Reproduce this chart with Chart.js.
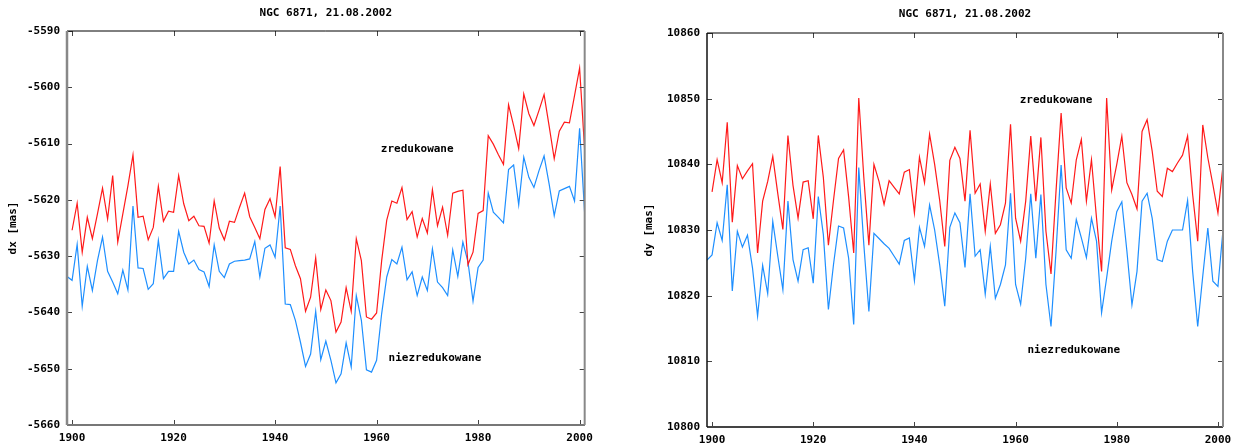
<!DOCTYPE html>
<html>
<head>
<meta charset="utf-8">
<script src="https://cdn.jsdelivr.net/npm/chart.js@4.4.1/dist/chart.umd.min.js"></script>
<style>
  html, body { margin: 0; padding: 0; background: #fff; }
  #wrap { position: relative; width: 1239px; height: 446px; }
  #dxChart { position: absolute; left: 0; top: 0; }
  #dyChart { position: absolute; left: 630px; top: 0; }
</style>
</head>
<body>
<div id="wrap">
  <canvas id="dxChart" width="600" height="446"></canvas>
  <canvas id="dyChart" width="609" height="446"></canvas>
</div>
<script>
const chartTitle = 'NGC 6871, 21.08.2002';
const labelReduced = 'zredukowane';
const labelRaw = 'niezredukowane';

// reduced series start in 1900, raw series in 1899, one value per year
const firstYearReduced = 1900;
const firstYearRaw = 1899;

const xTicks = [1900, 1920, 1940, 1960, 1980, 2000];
const dxTicks = [-5660, -5650, -5640, -5630, -5620, -5610, -5600, -5590];
const dyTicks = [10800, 10810, 10820, 10830, 10840, 10850, 10860];

const dxReduced = [
  -5625.4, -5620.6, -5629.3, -5623.1, -5626.9, -5622.5, -5617.9, -5623.4, -5615.7, -5627.5,
  -5622.5, -5617.5, -5612.0, -5623.1, -5622.9, -5627.1, -5624.9, -5617.6, -5623.8, -5622.0,
  -5622.2, -5615.7, -5620.7, -5623.7, -5622.9, -5624.6, -5624.7, -5627.7, -5620.2, -5625.0,
  -5627.1, -5623.8, -5624.0, -5621.3, -5618.8, -5623.0, -5624.9, -5626.9, -5621.7, -5619.8,
  -5623.0, -5614.1, -5628.5, -5628.8, -5631.7, -5634.0, -5639.8, -5637.3, -5630.3, -5639.5,
  -5636.0, -5637.9, -5643.5, -5641.7, -5635.6, -5639.8, -5626.9, -5630.8, -5640.8, -5641.2,
  -5640.1, -5630.8, -5623.6, -5620.2, -5620.6, -5617.8, -5623.5, -5622.1, -5626.6, -5623.3,
  -5625.9, -5618.2, -5624.6, -5621.3, -5626.3, -5618.8, -5618.5, -5618.3, -5631.5, -5629.3,
  -5622.4, -5621.9, -5608.6, -5610.1, -5612.0, -5613.7, -5603.1, -5606.8, -5610.9, -5601.2,
  -5604.7, -5606.8, -5604.1, -5601.3, -5606.9, -5612.7, -5607.8, -5606.2, -5606.3, -5601.5,
  -5596.6, -5611.2
];
const dxRaw = [
  -5633.6,
  -5634.3, -5627.9, -5638.9, -5631.8, -5636.1, -5630.8, -5626.6, -5632.7, -5634.6, -5636.7,
  -5632.5, -5636.0, -5621.1, -5632.1, -5632.2, -5635.9, -5634.9, -5627.2, -5634.0, -5632.7,
  -5632.7, -5625.6, -5629.3, -5631.4, -5630.7, -5632.4, -5632.8, -5635.4, -5628.0, -5632.7,
  -5633.8, -5631.4, -5630.9, -5630.8, -5630.7, -5630.5, -5627.4, -5633.7, -5628.6, -5628.0,
  -5630.2, -5621.1, -5638.5, -5638.6, -5641.4, -5645.3, -5649.6, -5647.4, -5639.8, -5648.4,
  -5645.1, -5648.5, -5652.5, -5650.9, -5645.4, -5649.7, -5637.0, -5641.4, -5650.2, -5650.6,
  -5648.5, -5640.2, -5633.7, -5630.6, -5631.4, -5628.4, -5634.2, -5632.8, -5637.0, -5633.7,
  -5636.1, -5628.7, -5634.6, -5635.6, -5637.0, -5628.9, -5633.6, -5627.5, -5631.0, -5638.0,
  -5632.0, -5630.7, -5618.8, -5622.2, -5623.1, -5624.1, -5614.6, -5613.8, -5620.9, -5612.4,
  -5616.0, -5617.8, -5614.8, -5612.2, -5617.2, -5622.8, -5618.4, -5618.0, -5617.6, -5620.2,
  -5607.3, -5622.4
];

const dyReduced = [
  10835.8, 10840.7, 10837.2, 10846.4, 10831.2, 10839.8, 10837.8, 10839.0, 10840.1, 10826.5,
  10834.4, 10837.4, 10841.2, 10835.5, 10830.1, 10844.4, 10836.8, 10831.8, 10837.3, 10837.5,
  10831.7, 10844.4, 10838.0, 10827.7, 10834.5, 10840.9, 10842.2, 10835.0, 10826.5, 10850.1,
  10838.0, 10827.7, 10840.0, 10837.4, 10833.9, 10837.5, 10836.5, 10835.5, 10838.8, 10839.2,
  10832.6, 10841.1, 10837.2, 10844.6, 10840.0, 10834.5, 10827.5, 10840.6, 10842.6, 10840.9,
  10834.4, 10845.2, 10835.6, 10837.0, 10829.8, 10837.0, 10829.5, 10830.8, 10834.1, 10846.1,
  10831.8, 10828.3, 10834.4, 10844.3, 10834.4, 10844.1, 10829.8, 10823.3, 10836.0, 10847.8,
  10836.4, 10834.1, 10840.7, 10843.8, 10834.4, 10840.7, 10831.8, 10823.7, 10850.1, 10836.1,
  10840.0, 10844.3, 10837.2, 10835.4, 10833.2, 10845.0, 10846.8, 10842.0, 10835.9, 10835.1,
  10839.4, 10838.9, 10840.2, 10841.4, 10844.3, 10835.4, 10828.3, 10846.0, 10841.0, 10836.9,
  10832.6, 10839.8
];
const dyRaw = [
  10825.4,
  10826.2, 10831.1, 10828.4, 10836.9, 10820.7, 10829.8, 10827.4, 10829.2, 10824.2, 10816.9,
  10824.6, 10820.3, 10831.3, 10826.0, 10820.9, 10834.4, 10825.5, 10822.2, 10827.0, 10827.3,
  10821.9, 10835.1, 10829.3, 10817.9, 10824.7, 10830.6, 10830.3, 10825.7, 10815.6, 10839.5,
  10827.8, 10817.6, 10829.5, 10828.7, 10827.9, 10827.2, 10826.0, 10824.8, 10828.4, 10828.8,
  10822.3, 10830.4, 10827.5, 10833.8, 10830.0, 10824.7, 10818.4, 10830.4, 10832.6, 10831.1,
  10824.3, 10835.5, 10826.0, 10827.0, 10820.2, 10827.5, 10819.6, 10821.7, 10824.7, 10835.6,
  10821.7, 10818.7, 10825.7, 10835.5, 10825.7, 10835.4, 10821.7, 10815.3, 10826.8, 10839.9,
  10827.0, 10825.7, 10831.6, 10828.8, 10825.8, 10831.8, 10828.3, 10817.4, 10822.7, 10828.3,
  10832.8, 10834.3, 10826.8, 10818.6, 10823.7, 10834.4, 10835.6, 10831.8, 10825.5, 10825.2,
  10828.3, 10830.0, 10830.0, 10830.0, 10834.5, 10823.7, 10815.3, 10823.0, 10830.3, 10822.2,
  10821.4, 10830.0
];

const FONT = 'DejaVu Sans Mono';
const RED = '#ff1a1a';
const BLUE = '#1e8fff';

const toPoints = (values, firstYear) => values.map((v, i) => ({ x: firstYear + i, y: v }));

// box round the plot, inward tick marks and the two text labels
const framePlugin = {
  id: 'frame',
  afterDraw(chart, args, opts) {
    const { ctx, chartArea: a, scales } = chart;
    const sx = scales.x, sy = scales.y;
    ctx.save();
    ctx.lineWidth = 1;
    ctx.strokeStyle = '#444';
    ctx.beginPath();
    opts.yTicks.forEach(v => {
      const py = Math.round(sy.getPixelForValue(v)) + 0.5;
      ctx.moveTo(a.left, py); ctx.lineTo(a.left + 5, py);
      ctx.moveTo(a.right, py); ctx.lineTo(a.right - 5, py);
    });
    xTicks.forEach(v => {
      const px = Math.round(sx.getPixelForValue(v)) + 0.5;
      ctx.moveTo(px, a.top); ctx.lineTo(px, a.top + 5);
      ctx.moveTo(px, a.bottom); ctx.lineTo(px, a.bottom - 5);
    });
    ctx.stroke();

    const edge = (c, x1, y1, x2, y2) => {
      ctx.strokeStyle = c[0]; ctx.lineWidth = c[1];
      ctx.beginPath(); ctx.moveTo(x1, y1); ctx.lineTo(x2, y2); ctx.stroke();
    };
    edge(opts.top, a.left, a.top, a.right, a.top);
    edge(opts.bottom, a.left, a.bottom, a.right, a.bottom);
    edge(opts.left, a.left, a.top, a.left, a.bottom);
    edge(opts.right, a.right, a.top, a.right, a.bottom);

    ctx.font = `bold 11px "${FONT}"`;
    ctx.fillStyle = '#000';
    ctx.textAlign = 'center';
    ctx.textBaseline = 'middle';
    opts.notes.forEach(n => ctx.fillText(n.text, sx.getPixelForValue(n.x), sy.getPixelForValue(n.y)));
    ctx.restore();
  }
};

const createChart = (id, cfg) => {
  const canvas = document.getElementById(id);
  return new Chart(canvas, {
    type: 'line',
    data: {
      datasets: [
        {
          label: labelReduced,
          data: toPoints(cfg.reduced, firstYearReduced),
          borderColor: RED,
          borderWidth: 1.2,
          pointRadius: 0,
          tension: 0,
        },
        {
          label: labelRaw,
          data: toPoints(cfg.raw, firstYearRaw),
          borderColor: BLUE,
          borderWidth: 1.2,
          pointRadius: 0,
          tension: 0,
        },
      ],
    },
    options: {
      responsive: false,
      animation: false,
      events: [],
      layout: { padding: { left: 0, right: cfg.padRight, top: 0, bottom: 0 } },
      scales: {
        x: {
          type: 'linear',
          min: 1899,
          max: 2001,
          afterBuildTicks: s => { s.ticks = xTicks.map(v => ({ value: v })); },
          afterFit: s => { s.height = cfg.xHeight; },
          grid: { display: false, drawTicks: false },
          border: { display: false },
          ticks: {
            padding: 7,
            color: '#000',
            font: { family: FONT, size: 11, weight: 'bold' },
            callback: v => String(v),
          },
        },
        y: {
          min: cfg.yTicks[0],
          max: cfg.yTicks[cfg.yTicks.length - 1],
          afterBuildTicks: s => { s.ticks = cfg.yTicks.map(v => ({ value: v })); },
          afterFit: s => { s.width = cfg.yWidth; },
          grid: { display: false, drawTicks: false },
          border: { display: false },
          ticks: {
            padding: 7,
            color: '#000',
            font: { family: FONT, size: 11, weight: 'bold' },
            callback: v => String(v),
          },
          title: {
            display: true,
            text: cfg.yLabel,
            color: '#000',
            padding: { top: cfg.yTitlePad, bottom: 0 },
            font: { family: FONT, size: 11, weight: 'bold' },
          },
        },
      },
      plugins: {
        legend: { display: false },
        tooltip: { enabled: false },
        title: {
          display: true,
          text: chartTitle,
          fullSize: false,
          color: '#000',
          font: { family: FONT, size: 11, weight: 'bold' },
          padding: cfg.titlePad,
        },
        frame: {
          yTicks: cfg.yTicks,
          top: cfg.frame.top,
          bottom: cfg.frame.bottom,
          left: cfg.frame.left,
          right: cfg.frame.right,
          notes: cfg.notes,
        },
      },
    },
    plugins: [framePlugin],
  });
};

createChart('dxChart', {
  reduced: dxReduced,
  raw: dxRaw,
  yTicks: dxTicks,
  yLabel: 'dx [mas]',
  yWidth: 67,
  yTitlePad: 7,
  xHeight: 21,
  padRight: 11,
  titlePad: { top: 7, bottom: 10.8 },
  frame: { top: ['#000', 1], bottom: ['#777', 2], left: ['#888', 2.5], right: ['#888', 2] },
  notes: [
    { text: labelReduced, x: 1968, y: -5611 },
    { text: labelRaw, x: 1971.5, y: -5648.1 },
  ],
});

createChart('dyChart', {
  reduced: dyReduced,
  raw: dyRaw,
  yTicks: dyTicks,
  yLabel: 'dy [mas]',
  yWidth: 77,
  yTitlePad: 13,
  xHeight: 19,
  padRight: 16,
  titlePad: { top: 8, bottom: 11.8 },
  frame: { top: ['#000', 1], bottom: ['#444', 2], left: ['#111', 1.5], right: ['#888', 2] },
  notes: [
    { text: labelReduced, x: 1968, y: 10849.8 },
    { text: labelRaw, x: 1971.5, y: 10811.7 },
  ],
});
</script>
</body>
</html>
